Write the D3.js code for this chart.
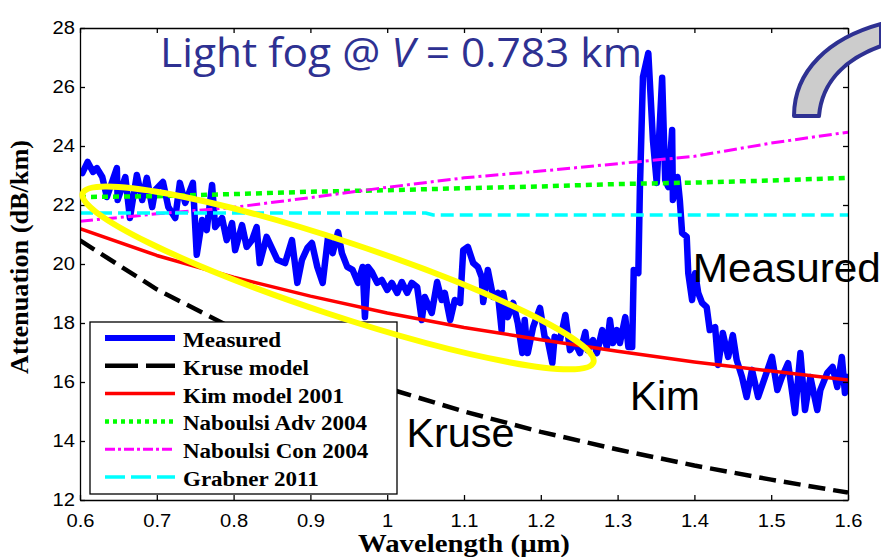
<!DOCTYPE html>
<html>
<head>
<meta charset="utf-8">
<script src="https://cdn.jsdelivr.net/npm/d3@7"></script>
<style>
  body { margin: 0; background: #fff; }
  .axis path, .axis line { stroke: #000; stroke-width: 1.3; }
  .axis text { font-family: "Liberation Sans", Arial, sans-serif; font-size: 18px; fill: #000; }
</style>
</head>
<body>
<svg id="chart" width="881" height="557"></svg>
<script>

// Model curves at every 0.1 um
var wavelengths = [0.6, 0.7, 0.8, 0.9, 1.0, 1.1, 1.2, 1.3, 1.4, 1.5, 1.6];
var kruse       = [20.8, 19.14, 17.81, 16.71, 15.79, 15.0, 14.31, 13.71, 13.17, 12.69, 12.25];
var kim         = [21.2, 20.29, 19.55, 18.91, 18.34, 17.85, 17.43, 17.04, 16.68, 16.37, 16.07];
var naboulsiAdv = [22.27, 22.3, 22.37, 22.45, 22.5, 22.57, 22.63, 22.71, 22.76, 22.83, 22.92];
var naboulsiCon = [21.45, 21.7, 21.92, 22.25, 22.6, 22.92, 23.15, 23.4, 23.65, 24.1, 24.47];

// Grabner is flat with one small step
var grabnerX = [0.6, 1.05, 1.06, 1.6];
var grabner  = [21.73, 21.73, 21.66, 21.66];

// Measured attenuation (noisy trace)
var measuredX = [0.603, 0.610, 0.617, 0.622, 0.629, 0.635, 0.648, 0.649, 0.659, 0.665, 0.674, 0.681, 0.687, 0.694, 0.698,
  0.708, 0.715, 0.724, 0.730, 0.737, 0.747, 0.752, 0.759, 0.765, 0.772, 0.776, 0.785, 0.791, 0.798, 0.802, 0.811, 0.817,
  0.824, 0.830, 0.834, 0.843, 0.857, 0.867, 0.876, 0.883, 0.889, 0.896, 0.902, 0.909, 0.916, 0.923, 0.929, 0.936, 0.941,
  0.948, 0.955, 0.962, 0.968, 0.971, 0.975, 0.980, 0.987, 0.993, 1.000, 1.006, 1.013, 1.019, 1.026, 1.032, 1.039, 1.045,
  1.049, 1.058, 1.065, 1.071, 1.075, 1.082, 1.088, 1.095, 1.099, 1.105, 1.112, 1.118, 1.123, 1.125, 1.131, 1.138, 1.144,
  1.149, 1.151, 1.157, 1.164, 1.170, 1.176, 1.179, 1.183, 1.190, 1.199, 1.205, 1.209, 1.215, 1.218, 1.225, 1.232, 1.238,
  1.245, 1.251, 1.258, 1.261, 1.268, 1.273, 1.280, 1.286, 1.290, 1.294, 1.299, 1.303, 1.310, 1.314, 1.319, 1.321, 1.327,
  1.329, 1.333, 1.340, 1.346, 1.351, 1.358, 1.362, 1.366, 1.371, 1.372, 1.378, 1.381, 1.384, 1.390, 1.392, 1.397, 1.401,
  1.405, 1.410, 1.416, 1.420, 1.427, 1.431, 1.437, 1.444, 1.450, 1.455, 1.462, 1.468, 1.475, 1.483, 1.492, 1.501, 1.508,
  1.514, 1.522, 1.531, 1.538, 1.544, 1.551, 1.560, 1.564, 1.573, 1.580, 1.586, 1.592, 1.596, 1.599];
var measuredY = [23.08, 23.46, 23.12, 23.25, 22.95, 22.27, 23.25, 22.17, 22.95, 21.56, 23.02, 22.17, 22.92, 21.93, 22.51,
  22.78, 21.93, 21.56, 22.75, 22.07, 22.75, 20.31, 21.49, 21.15, 22.68, 21.25, 21.56, 20.81, 21.39, 20.47, 21.32, 20.58,
  20.81, 21.25, 20.03, 20.92, 20.14, 20.03, 20.81, 19.36, 20.14, 20.54, 20.71, 19.90, 19.36, 20.92, 20.37, 21.08, 20.37,
  19.90, 19.80, 19.36, 19.90, 18.20, 19.90, 19.73, 19.36, 19.46, 19.12, 19.36, 19.02, 19.39, 19.02, 19.36, 19.22, 18.10,
  18.88, 18.34, 19.39, 18.78, 19.02, 18.10, 18.78, 18.68, 20.47, 20.58, 20.03, 19.90, 19.56, 18.71, 19.80, 18.88, 19.02,
  17.76, 19.02, 18.20, 18.68, 18.00, 16.98, 18.10, 16.98, 17.86, 18.51, 17.53, 17.42, 16.64, 17.53, 17.42, 18.27, 17.08,
  17.32, 16.98, 17.69, 17.08, 17.42, 16.98, 17.76, 17.19, 18.10, 17.32, 17.76, 17.32, 18.20, 17.19, 17.19, 19.80, 19.69,
  22.51, 26.34, 27.15, 24.20, 22.75, 26.31, 22.85, 22.61, 24.54, 22.17, 22.95, 22.17, 21.05, 20.92, 19.69, 18.78, 19.69,
  19.02, 18.68, 18.54, 17.76, 17.86, 16.58, 17.66, 16.85, 17.59, 16.75, 16.17, 15.49, 16.41, 15.49, 16.17, 16.85, 15.73,
  16.17, 16.64, 14.95, 16.98, 15.05, 16.17, 15.05, 15.73, 16.31, 16.51, 15.83, 16.85, 15.63, 16.17];

var xTicks = [0.6, 0.7, 0.8, 0.9, 1.0, 1.1, 1.2, 1.3, 1.4, 1.5, 1.6];
var yTicks = [12, 14, 16, 18, 20, 22, 24, 26, 28];

var legendNames = ["Measured", "Kruse model", "Kim model 2001", "Naboulsi Adv 2004", "Naboulsi Con 2004", "Grabner 2011"];

var svg = d3.select("#chart");

// Plot box (pixels)
var plotLeft = 80, plotRight = 848, plotTop = 28, plotBottom = 500;

var x = d3.scaleLinear().domain([0.6, 1.6]).range([plotLeft, plotRight]);
var y = d3.scaleLinear().domain([12, 28]).range([plotBottom, plotTop]);

// The source picture is stretched sideways a little, so text is widened to match
function stretch(sel, k) {
    sel.each(function() {
        var w = this.getComputedTextLength();
        d3.select(this).attr("textLength", w * k).attr("lengthAdjust", "spacingAndGlyphs");
    });
}

svg.append("defs").append("clipPath").attr("id", "plotClip")
  .append("rect")
    .attr("x", plotLeft).attr("y", plotTop)
    .attr("width", plotRight - plotLeft).attr("height", plotBottom - plotTop);

// Build the series from the arrays
var series = [
    { name: legendNames[0], xs: measuredX,   ys: measuredY,   color: "#0000ff", width: 6.5, dash: null,       legendDash: null },
    { name: legendNames[1], xs: wavelengths, ys: kruse,       color: "#000000", width: 4.5, dash: "17,8",     legendDash: "33,8" },
    { name: legendNames[2], xs: wavelengths, ys: kim,         color: "#ff0000", width: 3.5, dash: null,       legendDash: null },
    { name: legendNames[3], xs: wavelengths, ys: naboulsiAdv, color: "#00ff00", width: 4.5, dash: "6,5",      legendDash: "4,4" },
    { name: legendNames[4], xs: wavelengths, ys: naboulsiCon, color: "#ff00ff", width: 3,   dash: "13,4,3,4", legendDash: "10,3,3,3" },
    { name: legendNames[5], xs: grabnerX,    ys: grabner,     color: "#00ffff", width: 3.5, dash: "13,6",     legendDash: "20,6" }
];

var line = d3.line()
  .x(function(d) { return x(d[0]); })
  .y(function(d) { return y(d[1]); });

svg.append("g")
    .attr("clip-path", "url(#plotClip)")
  .selectAll("path")
  .data(series)
  .enter()
  .append("path")
    .attr("d", function(s) { return line(d3.zip(s.xs, s.ys)); })
    .attr("fill", "none")
    .attr("stroke", function(s) { return s.color; })
    .attr("stroke-width", function(s) { return s.width; })
    .attr("stroke-dasharray", function(s) { return s.dash; })
    .attr("stroke-linejoin", "round")
    .attr("stroke-linecap", function(s) { return s.dash ? "butt" : "round"; });

// Axes, MATLAB style: ticks point inwards on all four sides
svg.append("g")
    .attr("class", "axis")
    .attr("transform", "translate(0," + plotBottom + ")")
    .call(d3.axisBottom(x).tickValues(xTicks).tickSizeInner(-5).tickSizeOuter(0).tickPadding(14)
      .tickFormat(function(d) { return String(d); }))
    .selectAll("text").call(stretch, 1.12);

svg.append("g")
    .attr("class", "axis")
    .attr("transform", "translate(" + plotLeft + ",0)")
    .call(d3.axisLeft(y).tickValues(yTicks).tickSizeInner(-5).tickSizeOuter(0).tickPadding(5))
    .selectAll("text").call(stretch, 1.12);

svg.append("g")
    .attr("class", "axis")
    .attr("transform", "translate(0," + plotTop + ")")
    .call(d3.axisTop(x).tickValues(xTicks).tickSizeInner(-5).tickSizeOuter(0).tickFormat(""));

svg.append("g")
    .attr("class", "axis")
    .attr("transform", "translate(" + plotRight + ",0)")
    .call(d3.axisRight(y).tickValues(yTicks).tickSizeInner(-5).tickSizeOuter(0).tickFormat(""));

// Axis titles
svg.append("text")
    .attr("x", 464).attr("y", 552)
    .attr("text-anchor", "middle")
    .style("font-family", "'Liberation Serif', 'Times New Roman', serif")
    .style("font-weight", "bold")
    .style("font-size", "25px")
    .text("Wavelength (\u03bcm)")
    .call(stretch, 1.15);

svg.append("text")
    .attr("transform", "translate(28,257) rotate(-90)")
    .attr("text-anchor", "middle")
    .style("font-family", "'Liberation Serif', 'Times New Roman', serif")
    .style("font-weight", "bold")
    .style("font-size", "25px")
    .text("Attenuation (dB/km)")
    .call(stretch, 1.05);

// Legend
var legend = svg.append("g");

legend.append("rect")
    .attr("x", 90).attr("y", 322)
    .attr("width", 307).attr("height", 172)
    .attr("fill", "#fff")
    .attr("stroke", "#000")
    .attr("stroke-width", 1.3);

var rows = legend.selectAll(".row")
  .data(series)
  .enter()
  .append("g")
    .attr("class", "row")
    .attr("transform", function(s, i) { return "translate(0," + (338 + i * 27.8) + ")"; });

rows.append("line")
    .attr("x1", 105).attr("x2", 175)
    .attr("stroke", function(s) { return s.color; })
    .attr("stroke-width", function(s) { return Math.min(s.width, 6); })
    .attr("stroke-dasharray", function(s) { return s.legendDash; });

rows.append("text")
    .attr("x", 183).attr("y", 9)
    .style("font-family", "'Liberation Serif', 'Times New Roman', serif")
    .style("font-weight", "bold")
    .style("font-size", "20px")
    .text(function(s) { return s.name; })
    .call(stretch, 1.15);

// Yellow ellipse round the region of interest
var ellCx = x(0.936), ellCy = y(19.53);
svg.append("ellipse")
    .attr("cx", ellCx).attr("cy", ellCy)
    .attr("rx", 269).attr("ry", 37)
    .attr("transform", "rotate(18.3," + ellCx + "," + ellCy + ")")
    .attr("fill", "none")
    .attr("stroke", "#ffff00")
    .attr("stroke-width", 6);

// Curve labels
var labels = [
    { text: "Measured", lx: 1.398, ly: 19.39, w: 188 },
    { text: "Kim",      lx: 1.316, ly: 15.05, w: 70 },
    { text: "Kruse",    lx: 1.025, ly: 13.8,  w: 108 }
];

svg.selectAll(".curveLabel")
  .data(labels)
  .enter()
  .append("text")
    .attr("class", "curveLabel")
    .attr("x", function(d) { return x(d.lx); })
    .attr("y", function(d) { return y(d.ly); })
    .attr("textLength", function(d) { return d.w; })
    .attr("lengthAdjust", "spacingAndGlyphs")
    .style("font-family", "'Liberation Sans', Arial, sans-serif")
    .style("font-size", "41px")
    .style("fill", "#000")
    .text(function(d) { return d.text; });

// Title
var title = svg.append("text")
    .attr("x", 160).attr("y", 67)
    .attr("textLength", 482)
    .attr("lengthAdjust", "spacingAndGlyphs")
    .style("font-family", "'Open Sans', 'Noto Sans', sans-serif")
    .style("font-size", "41px")
    .style("fill", "#2e3192");
title.append("tspan").text("Light fog @ ");
title.append("tspan").style("font-style", "italic").text("V");
title.append("tspan").text(" = 0.783 km");

// Curved arrow shape in the corner
svg.append("path")
    .attr("d", "M794,116 C794,70 830,38 881,24 L881,46 C848,58 822,80 819,116 Z")
    .attr("fill", "#cccccc")
    .attr("stroke", "#2e3192")
    .attr("stroke-width", 4)
    .attr("stroke-linejoin", "round");

</script>
</body>
</html>
